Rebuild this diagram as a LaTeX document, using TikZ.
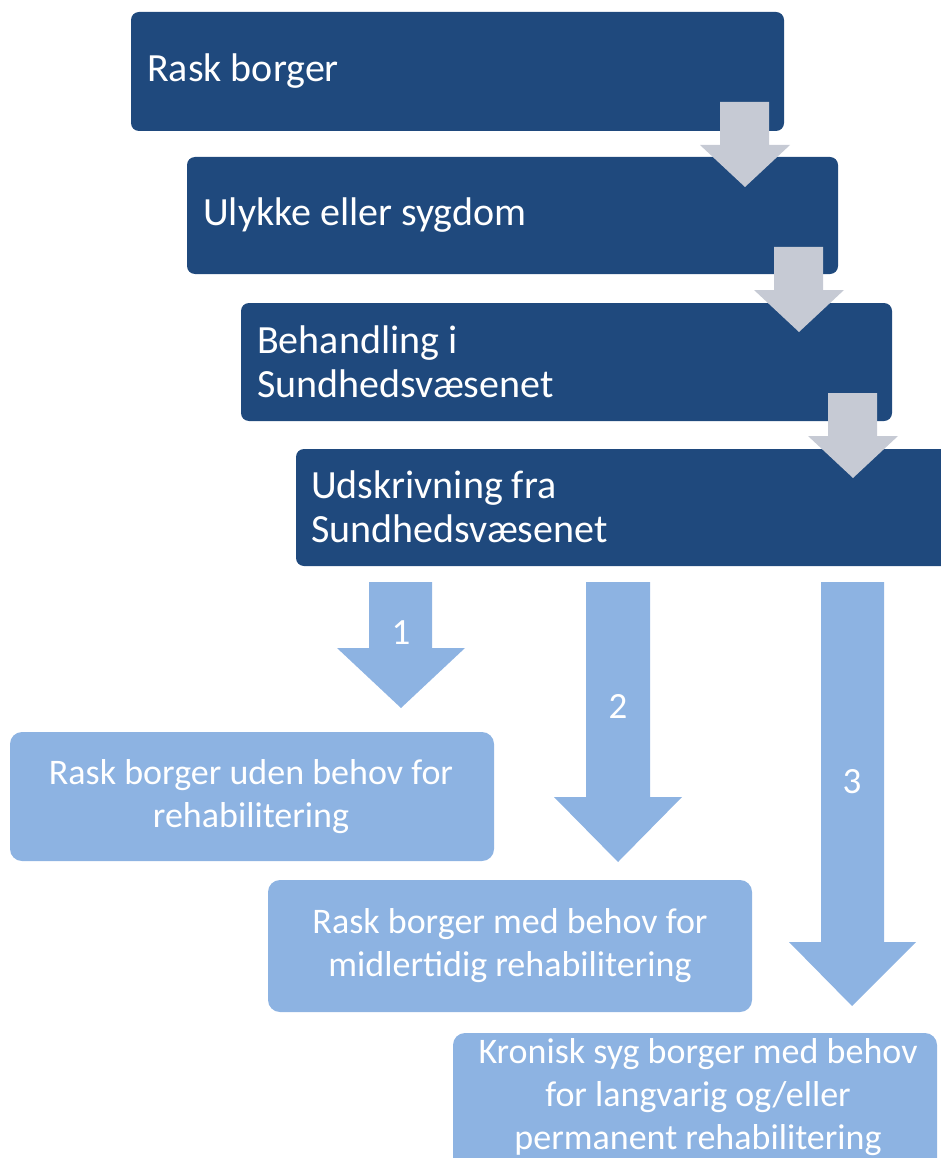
\documentclass[tikz,border=0pt]{standalone}
\usepackage{fontspec}
\setmainfont{Carlito}
\definecolor{darkbox}{HTML}{1F497D}
\definecolor{lightbox}{HTML}{8DB3E2}
\definecolor{greyarrow}{HTML}{C6CAD4}
\begin{document}
\begin{tikzpicture}[x=1pt,y=-1pt,
  darkstep/.style={fill=darkbox, rounded corners=8pt},
  darktext/.style={anchor=west, text=white, align=left, inner sep=0pt, font=\fontsize{40}{44}\selectfont},
  lightstep/.style={fill=lightbox, rounded corners=12pt},
  lighttext/.style={text=white, align=center, inner sep=0pt, font=\fontsize{36}{43}\selectfont},
  greyarr/.style={fill=greyarrow},
  bluearr/.style={fill=lightbox},
  numlabel/.style={text=white, font=\fontsize{37}{40}\selectfont}]
\useasboundingbox (0,0) rectangle (940,1158);
% dark boxes
\fill[darkstep] (131,12) rectangle (784,131);
\node[darktext] (b1) at (147,71) {Rask borger};
\fill[darkstep] (187,157) rectangle (838,274);
\node[darktext] (b2) at (203,215) {Ulykke eller sygdom};
\fill[darkstep] (241,303) rectangle (892,421);
\node[darktext] (b3) at (257,362) {Behandling i\\Sundhedsvæsenet};
\fill[darkstep] (296,449) rectangle (950,566);
\node[darktext] (b4) at (311,507) {Udskrivning fra\\Sundhedsvæsenet};
% grey arrows
\fill[greyarr] (720,102) -- (769,102) -- (769,145) -- (790,145) -- (745,187) -- (700,145) -- (720,145) -- cycle;
\fill[greyarr] (774,247) -- (823,247) -- (823,290) -- (844,290) -- (799,332) -- (754,290) -- (774,290) -- cycle;
\fill[greyarr] (828,393) -- (877,393) -- (877,436) -- (898,436) -- (853,478) -- (808,436) -- (828,436) -- cycle;
% light blue arrows
\fill[bluearr] (369,582) -- (432,582) -- (432,648) -- (465,648) -- (401,708) -- (337,648) -- (369,648) -- cycle;
\fill[bluearr] (586,582) -- (650,582) -- (650,797) -- (682,797) -- (618,862) -- (554,797) -- (586,797) -- cycle;
\fill[bluearr] (821,582) -- (884,582) -- (884,942) -- (916,942) -- (852,1006) -- (789,942) -- (821,942) -- cycle;
\node[numlabel] (n1) at (401,633) {1};
\node[numlabel] (n2) at (618,706) {2};
\node[numlabel] (n3) at (852,782) {3};
% light boxes
\fill[lightstep] (10,732) rectangle (494,861);
\node[lighttext] (l1) at (251,797) {Rask borger uden behov for\\rehabilitering};
\fill[lightstep] (268,880) rectangle (752,1012);
\node[lighttext] (l2) at (510,946) {Rask borger med behov for\\midlertidig rehabilitering};
\fill[lightstep] (453,1033) rectangle (937,1175);
\node[lighttext] (l3) at (698,1097) {Kronisk syg borger med behov\\for langvarig og/eller\\permanent rehabilitering};
\end{tikzpicture}
\end{document}
